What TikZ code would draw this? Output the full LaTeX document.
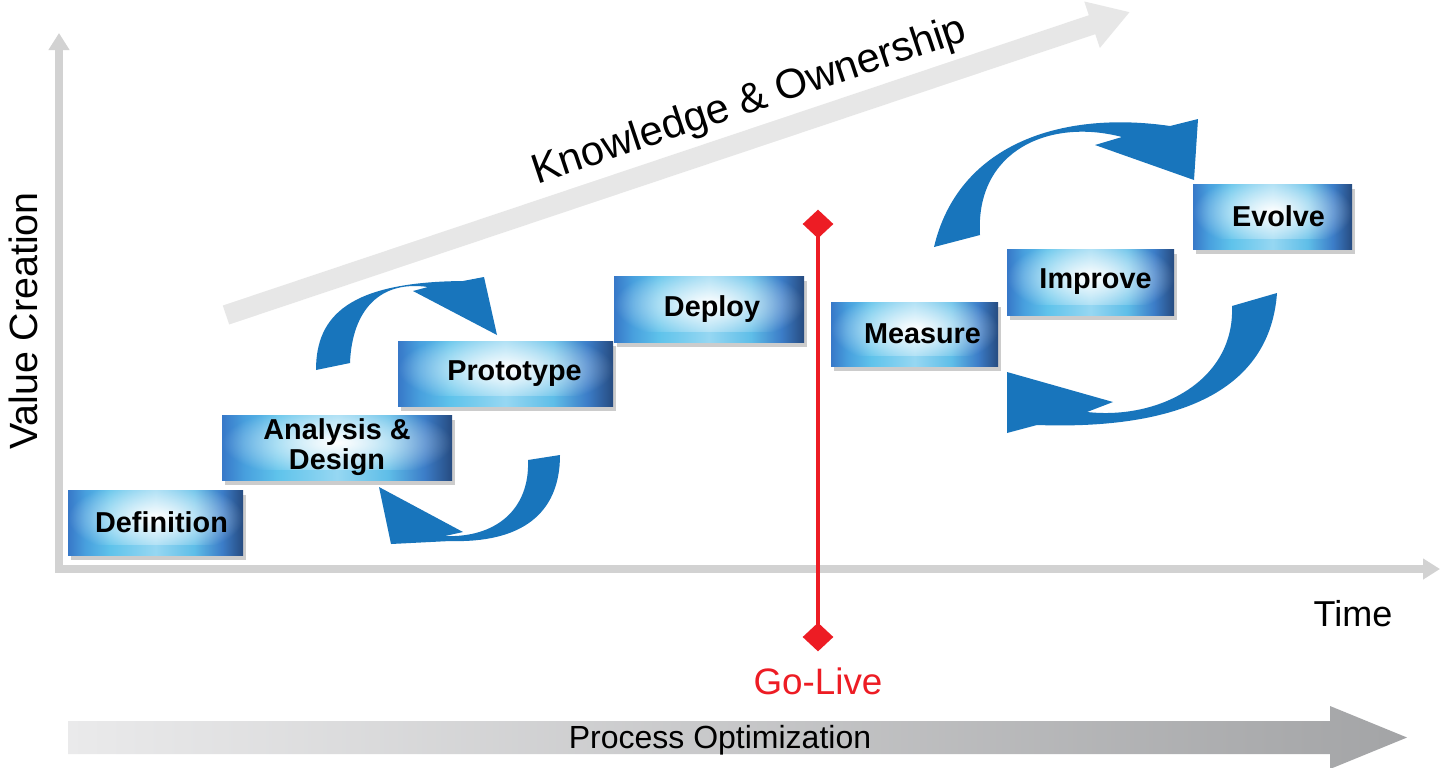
\documentclass[tikz,border=0pt]{standalone}
\usepackage{fontspec}
\setmainfont{Liberation Sans}
\usetikzlibrary{arrows.meta,shapes.geometric,shadows,fadings}

\definecolor{swooshblue}{RGB}{24,117,188}
\definecolor{golivered}{RGB}{237,28,36}
\definecolor{axisgray}{RGB}{210,210,210}
\definecolor{kogray}{RGB}{231,231,231}
\definecolor{procleft}{RGB}{234,234,235}
\definecolor{procright}{RGB}{163,164,166}

\pgfdeclarehorizontalshading{boxband}{100bp}{%
  color(0bp)=(rgb,255:red,55;green,120;blue,200);
  color(25bp)=(rgb,255:red,55;green,120;blue,200);
  color(30bp)=(rgb,255:red,72;green,160;blue,222);
  color(37bp)=(rgb,255:red,95;green,195;blue,235);
  color(50bp)=(rgb,255:red,150;green,215;blue,242);
  color(61bp)=(rgb,255:red,95;green,190;blue,232);
  color(69bp)=(rgb,255:red,60;green,125;blue,200);
  color(75bp)=(rgb,255:red,38;green,75;blue,128);
  color(100bp)=(rgb,255:red,38;green,75;blue,128)}
\tikzfading[name=boxglowfade, inner color=transparent!0, outer color=transparent!100]

\begin{document}
\begin{tikzpicture}[x=0.5pt,y=-0.5pt,
        stage/.style={rectangle, inner sep=0pt, align=center, shading=boxband,
          font=\bfseries\fontsize{14.4}{15}\selectfont,
          path picture={\fill[glow] ([yshift=5pt]path picture bounding box.south west) rectangle ([yshift=5pt]path picture bounding box.north east);},
          drop shadow={shadow xshift=1.5pt, shadow yshift=-2.5pt, opacity=.4}},
        glow/.style={fill=white, path fading=boxglowfade},
        swoosh/.style={fill=swooshblue},
        axisline/.style={draw=axisgray, line width=4pt, line join=miter},
        golive mark/.style={diamond, fill=golivered, inner sep=0pt, minimum width=15.5pt, minimum height=14.5pt}]
        \path[use as bounding box, fill=white] (0,0) rectangle (1456,767);

        \draw[axisline, {Triangle[length=8.5pt,width=10pt]}-{Triangle[length=8.5pt,width=10pt]}] (59,33) -- (59,569) -- (1440,569);
        \node[font=\fontsize{19.7}{22}\selectfont, rotate=90, anchor=base] (vallab) at (38,321) {Value Creation};
        \node[font=\fontsize{18}{20}\selectfont, anchor=base] (timelab) at (1353,626) {Time};

        \draw[draw=kogray, line width=10pt, -{Triangle[length=20pt,width=23pt]}] (226,315) -- (1130,12);
        \node[font=\fontsize{20.8}{23}\selectfont, rotate=18.5, anchor=base] (kolab) at (753,112) {Knowledge \& Ownership};

        \fill[swoosh] (316,370) .. controls (316,315) and (350,282) .. (463,281) -- (484,277) -- (497,335) -- (413,291) -- (428,287) .. controls (380,280) and (352,310) .. (350,363) -- cycle;
        \fill[swoosh] (560,455) .. controls (560,515) and (520,543) .. (450,541) -- (391,544) -- (379,487) -- (463,532) -- (445,536) .. controls (495,538) and (530,510) .. (528,460) -- cycle;
        \fill[swoosh] (934,247) .. controls (958,145) and (1060,110) .. (1170,126) -- (1198,119) -- (1194,180) -- (1095,145) -- (1122,137) .. controls (1050,118) and (975,150) .. (980,235) -- cycle;
        \fill[swoosh] (1277,293) .. controls (1270,390) and (1180,430) .. (1037,425) -- (1007,433) -- (1007,372) -- (1113,402) -- (1087,412) .. controls (1160,420) and (1235,380) .. (1232,306) -- cycle;

        \node[stage, minimum width=87.5pt, minimum height=32.5pt] (def) at (155.5,522.5) {\hspace*{6pt}Definition};
        \node[stage, minimum width=115pt, minimum height=32.5pt] (ana) at (337,447.5) {Analysis \&\\Design};
        \node[stage, minimum width=107.5pt, minimum height=32.5pt] (pro) at (505.5,373.5) {\hspace*{9pt}Prototype};
        \node[stage, minimum width=95pt, minimum height=33pt] (dep) at (709,309) {\hspace*{3pt}Deploy};
        \node[stage, minimum width=83.5pt, minimum height=32pt] (mea) at (914.5,334) {\hspace*{8pt}Measure};
        \node[stage, minimum width=83.5pt, minimum height=33pt] (imp) at (1090.5,282) {\hspace*{5pt}Improve};
        \node[stage, minimum width=79.5pt, minimum height=32.5pt] (evo) at (1272.5,216.5) {\hspace*{6pt}Evolve};

        \draw[golivered, line width=2.2pt] (818,224) -- (818,637);
        \node[golive mark] (gotop) at (818,224) {};
        \node[golive mark] (gobot) at (818,637) {};
        \node[text=golivered, font=\fontsize{18.4}{20}\selectfont, anchor=base] (golab) at (818,694) {Go-Live};

        \shade[left color=procleft, right color=procright] (68,721) -- (1330,721) -- (1330,706) -- (1407,737.5) -- (1330,769) -- (1330,754) -- (68,754) -- cycle;
        \node[font=\fontsize{16}{18}\selectfont, anchor=base] (prolab) at (720,748) {Process Optimization};
\end{tikzpicture}
\end{document}
